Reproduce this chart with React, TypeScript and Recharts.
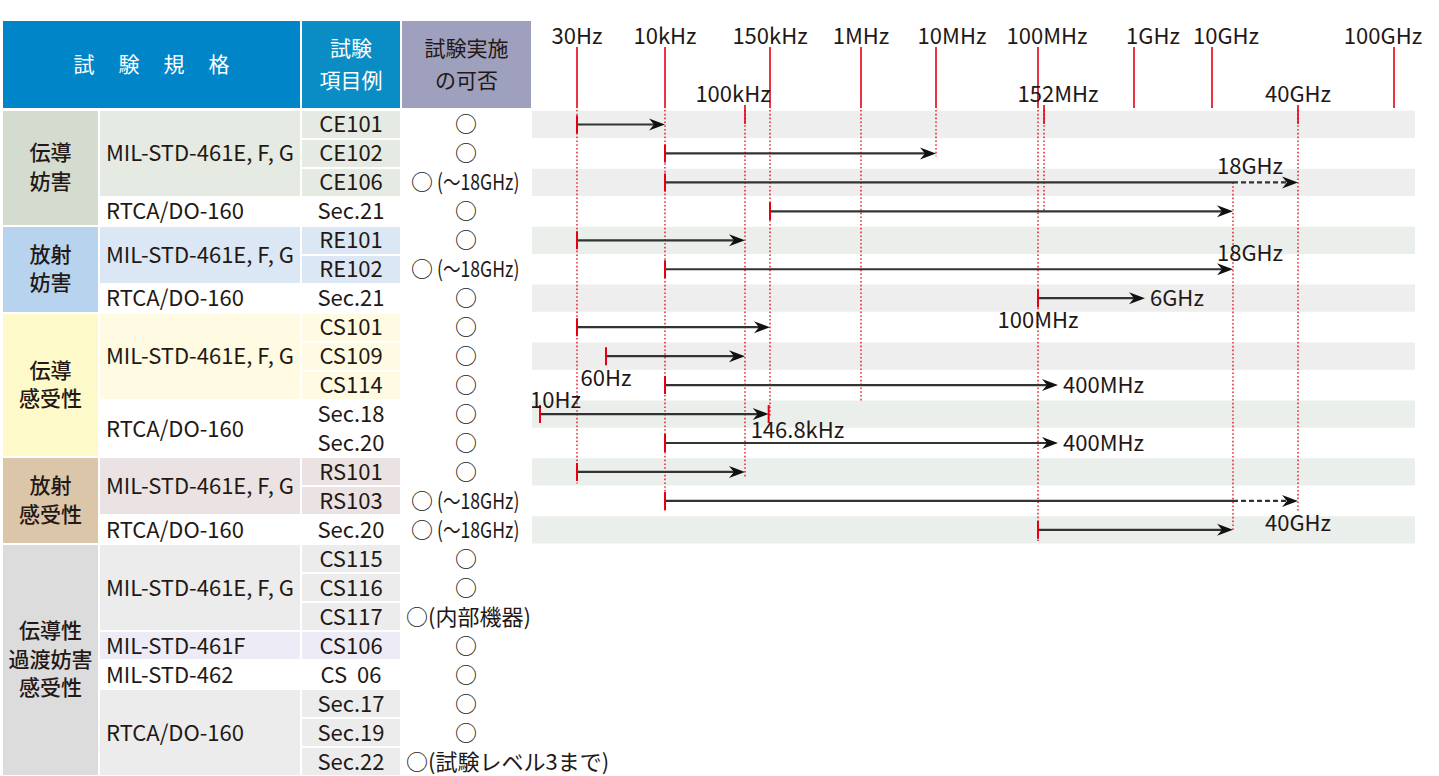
import React from 'react';
import { ComposedChart, XAxis, YAxis, Scatter, ReferenceLine, ReferenceArea } from 'recharts';

const FONT = '"Noto Sans CJK JP", "Noto Sans", sans-serif';
const INK = '#231815';
const RED = '#e60012';

// ---------------- table data ----------------
const HEADER_LABELS = ['試験規格', '試験\n項目例', '試験実施\nの可否'];

const CATEGORY_LABELS = ['伝導\n妨害', '放射\n妨害', '伝導\n感受性', '放射\n感受性', '伝導性\n過渡妨害\n感受性'];
const CATEGORY_FIRST_ROW = [0, 4, 7, 12, 15];
const CATEGORY_ROW_COUNT = [4, 3, 5, 3, 8];

const STANDARD_LABELS = [
  'MIL-STD-461E, F, G', 'RTCA/DO-160', 'MIL-STD-461E, F, G', 'RTCA/DO-160',
  'MIL-STD-461E, F, G', 'RTCA/DO-160', 'MIL-STD-461E, F, G', 'RTCA/DO-160',
  'MIL-STD-461E, F, G', 'MIL-STD-461F', 'MIL-STD-462', 'RTCA/DO-160',
];
const STANDARD_FIRST_ROW = [0, 3, 4, 6, 7, 10, 12, 14, 15, 18, 19, 20];
const STANDARD_ROW_COUNT = [3, 1, 2, 1, 3, 2, 2, 1, 3, 1, 1, 3];

const TEST_ITEMS = [
  'CE101', 'CE102', 'CE106', 'Sec.21', 'RE101', 'RE102', 'Sec.21',
  'CS101', 'CS109', 'CS114', 'Sec.18', 'Sec.20', 'RS101', 'RS103', 'Sec.20',
  'CS115', 'CS116', 'CS117', 'CS106', 'CS  06', 'Sec.17', 'Sec.19', 'Sec.22',
];
const FEASIBILITY_NOTES = [
  '', '', '(〜18GHz)', '', '', '(〜18GHz)', '',
  '', '', '', '', '', '', '(〜18GHz)', '(〜18GHz)',
  '', '', '(内部機器)', '', '', '', '', '(試験レベル3まで)',
];

// ---------------- frequency chart data ----------------
// schematic (hand-drawn) frequency axis: knots of the warped log scale
const SCALE_KNOT_HZ = [10, 30, 60, 1e4, 1e5, 1.5e5, 1e6, 1e7, 1e8, 4e8, 1e9, 6e9, 1e10, 1.8e10, 4e10, 1e11];
const SCALE_KNOT_UNITS = [8, 45, 74, 133, 213, 238, 329, 404, 506, 526, 602, 613, 680, 701, 766, 862];
const AXIS_MAX = 883;
const ROW_COUNT = 23;

const TICK_HZ = [30, 1e4, 1.5e5, 1e6, 1e7, 1e8, 1e9, 1e10, 1e11, 1e5, 1.52e8, 4e10];
const TICK_LABELS = ['30Hz', '10kHz', '150kHz', '1MHz', '10MHz', '100MHz', '1GHz', '10GHz', '100GHz', '100kHz', '152MHz', '40GHz'];
const TICK_TIER = [1, 1, 1, 1, 1, 1, 1, 1, 1, 2, 2, 2];

const RANGE_ROW = [0, 1, 2, 3, 4, 5, 6, 7, 8, 9, 10, 11, 12, 13, 14];
const RANGE_START_HZ = [30, 1e4, 1e4, 1.5e5, 30, 1e4, 1e8, 30, 60, 1e4, 10, 1e4, 30, 1e4, 1e8];
const RANGE_END_HZ = [1e4, 1e7, 1.8e10, 1.8e10, 1e5, 1.8e10, 6e9, 1.5e5, 1e5, 4e8, 1.468e5, 4e8, 1e5, 1.8e10, 1.8e10];
const RANGE_OPTION_END_HZ: (number | null)[] = [null, null, 4e10, null, null, null, null, null, null, null, null, null, null, 4e10, null];
const RANGE_END_MARK = [false, false, false, false, false, false, false, false, false, false, true, false, false, false, false];

const NOTE_TEXT = ['18GHz', '18GHz', '6GHz', '100MHz', '60Hz', '400MHz', '10Hz', '146.8kHz', '400MHz', '40GHz'];
const NOTE_HZ = [1.8e10, 1.8e10, 6e9, 1e8, 60, 4e8, 10, 1.468e5, 4e8, 4e10];
const NOTE_ROW = [2, 5, 6, 6, 8, 9, 10, 10, 11, 13];
const NOTE_PLACE = ['above', 'above', 'right', 'below', 'below', 'right', 'aboveLeft', 'belowLeft', 'right', 'below'];

const GUIDE_HZ = [30, 1e4, 1e5, 1.5e5, 1e6, 1e7, 1e8, 1.52e8, 1.8e10, 4e10];
const GUIDE_FROM_ROW = [0, 0, 0, 0, 0, 0, 0, 0, 2.5, 0];
const GUIDE_TO_ROW = [12.9, 13.9, 12.7, 10.6, 10.1, 1.6, 14.95, 3.5, 14.5, 13.85];

const BAND_ROWS = [0, 2, 4, 6, 8, 10, 12, 14];

// ---------------- styles ----------------
const CATEGORY_FILLS = ['#d4dbcf', '#b8d3ed', '#fef9c8', '#dcc6a9', '#dcdcdc'];
const STANDARD_FILLS = ['#e5eae2', '#ffffff', '#dbe7f5', '#ffffff', '#fefbe2', '#ffffff', '#ebe3e3', '#ffffff', '#ececec', '#edecf6', '#ffffff', '#ececec'];
const BAND_FILLS = ['#eeeeee', '#eeeeee', '#ebefeb', '#eeeeee', '#eeeeee', '#ebefeb', '#ebefeb', '#ebefeb'];
const TICK_LABEL_SHIFT: Record<string, number> = { '10MHz': 16, '1GHz': 19, '10GHz': 14, '100GHz': -11, '100kHz': -12, '152MHz': 14, '100MHz': 9 };
const NOTE_PLACEMENT: Record<string, { dx: number; dy: number; anchor: 'start' | 'middle' | 'end' }> = {
  above: { dx: -16, dy: -8, anchor: 'start' },
  right: { dx: 5, dy: 8, anchor: 'start' },
  below: { dx: 0, dy: 30, anchor: 'middle' },
  aboveLeft: { dx: -10, dy: -6, anchor: 'start' },
  belowLeft: { dx: -18, dy: 24, anchor: 'start' },
};

// ---------------- helpers ----------------
const KNOT_LOGS = SCALE_KNOT_HZ.map((v) => Math.log10(v));
function toAxis(hz: number): number {
  const l = Math.log10(hz);
  if (l <= KNOT_LOGS[0]) return SCALE_KNOT_UNITS[0];
  for (let i = 1; i < KNOT_LOGS.length; i++) {
    if (l <= KNOT_LOGS[i]) {
      const t = (l - KNOT_LOGS[i - 1]) / (KNOT_LOGS[i] - KNOT_LOGS[i - 1]);
      return SCALE_KNOT_UNITS[i - 1] + t * (SCALE_KNOT_UNITS[i] - SCALE_KNOT_UNITS[i - 1]);
    }
  }
  return SCALE_KNOT_UNITS[SCALE_KNOT_UNITS.length - 1];
}
const mid = (r: number) => r + 0.5;

const TICK_UNITS = TICK_HZ.map(toAxis);

const TABLE_TOP = 110;
const TABLE_BOTTOM = 776;
const ROW_H = (TABLE_BOTTOM - TABLE_TOP) / ROW_COUNT;
const rowTop = (r: number) => TABLE_TOP + r * ROW_H;

const COL = { cat: [3, 98], std: [100, 300], item: [302, 400], res: [401, 531] };

function Cell(props: { x0: number; x1: number; r0: number; n: number; bg: string; justify?: string; children?: React.ReactNode; style?: React.CSSProperties; lh?: string }) {
  const { x0, x1, r0, n, bg, justify = 'center', children, style, lh = '22px' } = props;
  return (
    <div
      style={{
        position: 'absolute', left: x0, width: x1 - x0, top: rowTop(r0) + 1, height: n * ROW_H - 2,
        background: bg, display: 'flex', alignItems: 'center', justifyContent: justify,
        boxSizing: 'border-box', whiteSpace: 'pre', lineHeight: lh, ...style,
      }}
    >
      <span style={{ position: 'relative', top: -2 }}>{children}</span>
    </div>
  );
}

function standardIndexOf(row: number) {
  for (let i = 0; i < STANDARD_FIRST_ROW.length; i++) {
    if (row >= STANDARD_FIRST_ROW[i] && row < STANDARD_FIRST_ROW[i] + STANDARD_ROW_COUNT[i]) return i;
  }
  return 0;
}

const FreqTick = (props: any) => {
  const { x, y, payload } = props;
  const v = payload?.value ?? 0;
  let idx = 0;
  let best = Infinity;
  TICK_UNITS.forEach((u, i) => {
    const d = Math.abs(u - v);
    if (d < best) { best = d; idx = i; }
  });
  const label = TICK_LABELS[idx];
  const dx = TICK_LABEL_SHIFT[label] ?? 0;
  const tier = TICK_TIER[idx];
  const ty = tier === 1 ? y - 66 : y - 8;
  const l1 = tier === 1 ? y - 63 : y - 5;
  const l2 = tier === 1 ? y - 2 : y + 14;
  return (
    <g>
      <line x1={x} x2={x} y1={l1} y2={l2} stroke={RED} strokeWidth={1.6} />
      <text x={x + dx} y={ty} textAnchor="middle" fontFamily={FONT} fontSize={22} fill={INK}>{label}</text>
    </g>
  );
};

const arrowShape = (dashed: boolean, head: boolean) => (p: any) => {
  const { x1, y1, x2, y2 } = p;
  const endX = head ? x2 - 9 : x2;
  return (
    <g>
      <line x1={x1} y1={y1} x2={endX} y2={y2} stroke="#333" strokeWidth={2.2} strokeDasharray={dashed ? '5 3' : undefined} />
      {head && (
        <path d={`M${x2},${y2} L${x2 - 16},${y2 - 6} L${x2 - 11},${y2} L${x2 - 16},${y2 + 6} Z`} fill="#111" />
      )}
    </g>
  );
};

const guideShape = (p: any) => (
  <line x1={p.x1} y1={p.y1} x2={p.x2} y2={p.y2} stroke={RED} strokeWidth={1.3} strokeDasharray="1.6 2.2" />
);

const TickMark = (p: any) => (
  <line x1={p.cx} x2={p.cx} y1={p.cy - 9} y2={p.cy + 9} stroke={RED} strokeWidth={2} />
);

const NoteShape = (p: any) => {
  const pl = NOTE_PLACEMENT[p.payload.place];
  return (
    <text x={p.cx + pl.dx} y={p.cy + pl.dy} textAnchor={pl.anchor} fontFamily={FONT} fontSize={22} fill={INK}>
      {p.payload.text}
    </text>
  );
};

export default function App() {
  const startMarks = RANGE_ROW.map((r, i) => ({ u: toAxis(RANGE_START_HZ[i]), row: mid(r) }));
  const endMarks = RANGE_ROW.filter((_, i) => RANGE_END_MARK[i]).map((r) => {
    const i = RANGE_ROW.indexOf(r);
    return { u: toAxis(RANGE_END_HZ[i]), row: mid(r) };
  });
  const notes = NOTE_TEXT.map((t, i) => ({ u: toAxis(NOTE_HZ[i]), row: mid(NOTE_ROW[i]), text: t, place: NOTE_PLACE[i] }));

  const headerTop = 21;
  const headerH = 87;

  return (
    <div style={{ position: 'absolute', left: 0, top: 0, width: 1439, height: 776, overflow: 'hidden', background: '#fff', fontFamily: FONT, color: INK, fontSize: 22 }}>
      {/* header */}
      <div style={{ position: 'absolute', left: 3, top: headerTop, width: 297, height: headerH, background: '#0086c8', color: '#fff', display: 'flex', alignItems: 'center', justifyContent: 'center', fontSize: 21, letterSpacing: 24, paddingLeft: 24, boxSizing: 'border-box' }}>
        <span style={{ position: 'relative', top: -2 }}>{HEADER_LABELS[0]}</span>
      </div>
      <div style={{ position: 'absolute', left: 302, top: headerTop, width: 98, height: headerH, background: '#0a8cc4', color: '#fff', display: 'flex', alignItems: 'center', justifyContent: 'center', textAlign: 'center', fontSize: 21, lineHeight: '32px', whiteSpace: 'pre' }}>
        <span style={{ position: 'relative', top: -2 }}>{HEADER_LABELS[1]}</span>
      </div>
      <div style={{ position: 'absolute', left: 402, top: headerTop, width: 129, height: headerH, background: '#9ea0bd', color: INK, display: 'flex', alignItems: 'center', justifyContent: 'center', textAlign: 'center', fontSize: 21, lineHeight: '32px', whiteSpace: 'pre' }}>
        <span style={{ position: 'relative', top: -2 }}>{HEADER_LABELS[2]}</span>
      </div>

      {/* categories */}
      {CATEGORY_LABELS.map((c, i) => (
        <Cell key={'c' + i} x0={COL.cat[0]} x1={COL.cat[1]} r0={CATEGORY_FIRST_ROW[i]} n={CATEGORY_ROW_COUNT[i]} bg={CATEGORY_FILLS[i]}
          lh="28.5px" style={{ textAlign: 'center', fontWeight: 500, fontSize: 21 }}>
          {c}
        </Cell>
      ))}

      {/* standards */}
      {STANDARD_LABELS.map((s, i) => (
        <Cell key={'s' + i} x0={COL.std[0]} x1={COL.std[1]} r0={STANDARD_FIRST_ROW[i]} n={STANDARD_ROW_COUNT[i]} bg={STANDARD_FILLS[i]} justify="flex-start" style={{ paddingLeft: 6 }}>
          {s}
        </Cell>
      ))}

      {/* test items */}
      {TEST_ITEMS.map((t, r) => (
        <Cell key={'t' + r} x0={COL.item[0]} x1={COL.item[1]} r0={r} n={1} bg={STANDARD_FILLS[standardIndexOf(r)]}>
          {t}
        </Cell>
      ))}

      {/* feasibility */}
      {FEASIBILITY_NOTES.map((note, r) => {
        const condensed = note.indexOf('GHz') >= 0;
        return (
          <div key={'f' + r} style={{ position: 'absolute', left: note ? (condensed ? 411 : 406) : COL.res[0], width: note ? 300 : COL.res[1] - COL.res[0], top: rowTop(r) + 2, height: ROW_H - 4, lineHeight: '22px', display: 'flex', alignItems: 'center', justifyContent: note ? 'flex-start' : 'center', whiteSpace: 'pre' }}>
            <span style={{ position: 'relative', top: -2 }}>○</span>
            {note && (
              condensed ? (
                <span style={{ position: 'relative', top: -2, marginLeft: 4, display: 'inline-block', transform: 'scaleX(0.8)', transformOrigin: 'left center' }}>{note}</span>
              ) : (
                <span style={{ position: 'relative', top: -2 }}>{note}</span>
              )
            )}
          </div>
        );
      })}

      {/* frequency chart */}
      <div style={{ position: 'absolute', left: 512, top: 0 }}>
        <ComposedChart width={927} height={776} margin={{ top: 0, right: 24, bottom: 0, left: 20 }}>
          <XAxis
            type="number" dataKey="u" domain={[0, AXIS_MAX]} allowDataOverflow orientation="top" height={110}
            ticks={TICK_UNITS} interval={0} tick={<FreqTick />} tickLine={false} axisLine={false} tickSize={0} tickMargin={0}
          />
          <YAxis type="number" dataKey="row" domain={[0, ROW_COUNT]} reversed hide allowDataOverflow />

          {BAND_ROWS.map((r, i) => (
            <ReferenceArea key={'b' + r} x1={0} x2={AXIS_MAX} y1={r + 0.03} y2={r + 0.97} fill={BAND_FILLS[i]} fillOpacity={1} stroke="none" ifOverflow="extendDomain" />
          ))}

          {GUIDE_HZ.map((hz, i) => (
            <ReferenceLine key={'g' + i}
              segment={[{ x: toAxis(hz), y: GUIDE_FROM_ROW[i] }, { x: toAxis(hz), y: GUIDE_TO_ROW[i] }]}
              shape={guideShape} stroke={RED} />
          ))}

          {RANGE_ROW.map((r, i) => {
            const opt = RANGE_OPTION_END_HZ[i];
            return (
              <React.Fragment key={'a' + i}>
                <ReferenceLine
                  segment={[{ x: toAxis(RANGE_START_HZ[i]), y: mid(r) }, { x: toAxis(RANGE_END_HZ[i]), y: mid(r) }]}
                  shape={arrowShape(false, opt == null)} stroke="#333" />
                {opt != null && (
                  <ReferenceLine
                    segment={[{ x: toAxis(RANGE_END_HZ[i]), y: mid(r) }, { x: toAxis(opt), y: mid(r) }]}
                    shape={arrowShape(true, true)} stroke="#333" />
                )}
              </React.Fragment>
            );
          })}

          <Scatter data={startMarks} shape={TickMark} isAnimationActive={false} />
          <Scatter data={endMarks} shape={TickMark} isAnimationActive={false} />
          <Scatter data={notes} shape={NoteShape} isAnimationActive={false} />
        </ComposedChart>
      </div>
    </div>
  );
}
